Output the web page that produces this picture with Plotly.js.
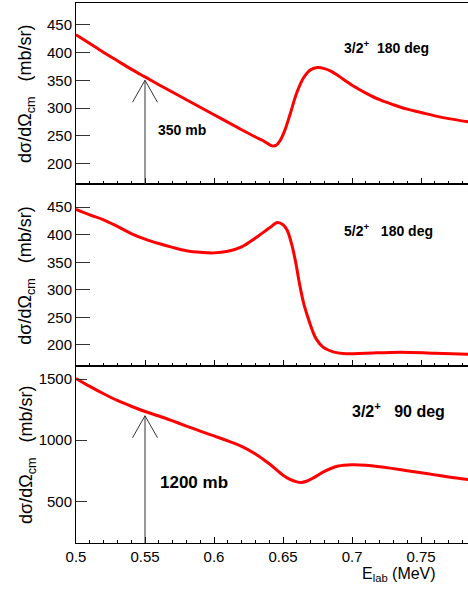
<!DOCTYPE html>
<html><head><meta charset="utf-8">
<script src="https://cdn.plot.ly/plotly-3.0.1.min.js"></script>
<style>html,body{margin:0;padding:0;background:#fff;}#plot{width:468px;height:591px;}</style>
</head><body><div id="plot"></div>
<script>
// Panel 1: 3/2+ 180 deg
const energy1 = [0.50,0.51,0.52,0.53,0.54,0.55,0.56,0.58,0.60,0.62,0.63,0.635,0.639,0.642,0.645,0.648,0.651,0.655,0.66,0.665,0.67,0.675,0.68,0.685,0.69,0.70,0.71,0.72,0.73,0.74,0.75,0.76,0.77,0.785];
const xsec1 = [432,416,400,385,370,356,342,315,288,261,248,242,236,232,233,242,258,288,328,355,369,373,371,366,358,341,327,315,306,298,292,286,281,275];
// Panel 2: 5/2+ 180 deg
const energy2 = [0.50,0.51,0.52,0.53,0.54,0.55,0.56,0.57,0.58,0.59,0.60,0.61,0.62,0.63,0.64,0.646,0.65,0.653,0.656,0.659,0.662,0.665,0.668,0.671,0.674,0.679,0.687,0.696,0.71,0.735,0.76,0.785];
const xsec2 = [446,436,427,415,402,392,384,377,371,368,367,370,378,394,412,422,418,408,385,352,310,275,250,228,211,196,187,184,185,187,185,183];
// Panel 3: 3/2+ 90 deg
const energy3 = [0.50,0.51,0.52,0.53,0.54,0.55,0.56,0.57,0.58,0.59,0.60,0.61,0.62,0.63,0.64,0.65,0.655,0.66,0.663,0.667,0.672,0.68,0.69,0.70,0.71,0.72,0.73,0.74,0.75,0.76,0.77,0.785];
const xsec3 = [1505,1440,1380,1325,1278,1235,1198,1158,1116,1075,1035,995,950,888,808,714,680,660,655,665,692,745,789,800,796,784,768,751,734,717,700,677];
// Arrow markers (energy, cross section)
const arrowE = [0.55, 0.55];
const arrowXS = [350, 1200];
const arrowLabels = ['350 mb', '1200 mb'];
const panelLabels = ['3/2<sup>+</sup>\u00a0\u00a0180 deg', '5/2<sup>+</sup>\u00a0\u00a0\u00a0180 deg', '3/2<sup>+</sup>\u00a0\u00a0\u00a090 deg'];
const yTitle = 'd\u03c3/d\u03a9<sub>cm</sub>\u00a0\u00a0\u00a0(mb/sr)';
const xTitle = 'E<sub>lab</sub> (MeV)';

const FONT = '"Liberation Sans", Arial, Helvetica, sans-serif';
const red = {color:'#ff0000', width:3, shape:'spline', smoothing:1};
const traces = [
  {x:energy1, y:xsec1, xaxis:'x', yaxis:'y', mode:'lines', line:red, hoverinfo:'skip'},
  {x:energy2, y:xsec2, xaxis:'x2', yaxis:'y2', mode:'lines', line:red, hoverinfo:'skip'},
  {x:energy3, y:xsec3, xaxis:'x3', yaxis:'y3', mode:'lines', line:red, hoverinfo:'skip'}
];
const xr = [0.5, 0.784];
function xax(anchor, labels){
  return {range:xr, anchor:anchor, showline:true, linecolor:'#000', linewidth:1, mirror:true,
    ticks:'inside', ticklen:6, tickcolor:'#000', dtick:0.05, tick0:0.5, showgrid:false, zeroline:false,
    showticklabels:labels, tickfont:{family:FONT,size:15,color:'#000'},
    minor:{dtick:0.01, ticks:'inside', ticklen:3, tickcolor:'#000', showgrid:false}, fixedrange:true};
}
function yax(domain, range, dtick, tl, standoff){
  return {domain:domain, range:range, dtick:dtick, anchor:'x', showline:true, linecolor:'#000', linewidth:1,
    ticks:'inside', ticklen:tl, tickcolor:'#333', showgrid:false, zeroline:false,
    tickfont:{family:FONT,size:15,color:'#000'},
    title:{text:yTitle, font:{family:FONT,size:18,color:'#000'}, standoff:standoff}, fixedrange:true};
}
const layout = {
  width:468, height:591, margin:{l:76, r:0, t:3, b:48},
  paper_bgcolor:'#fff', plot_bgcolor:'#fff', showlegend:false,
  font:{family:FONT, color:'#000'},
  xaxis: xax('y', false),
  xaxis2: Object.assign(xax('y2', false), {matches:'x'}),
  xaxis3: Object.assign(xax('y3', true), {matches:'x'}),
  yaxis: yax([0.6639,1], [162.5,489], 50, 14, 10),
  yaxis2: Object.assign(yax([0.3269,0.6639], [161,491], 50, 14, 10), {anchor:'x2'}),
  yaxis3: Object.assign(yax([0,0.3269], [160,1603], 500, 11, 1), {anchor:'x3'}),
  shapes: [], annotations: []
};
const arrowAxes = [['x','y',162.5],['x3','y3',160]];
arrowE.forEach((e,i)=>{
  const [xa,ya,ymin] = arrowAxes[i];
  layout.shapes.push({type:'line', xref:xa, yref:ya, x0:e, x1:e, y0:ymin, y1:arrowXS[i], line:{color:'#333', width:1}});
  layout.shapes.push({type:'path', xref:xa, yref:ya, xsizemode:'pixel', ysizemode:'pixel', xanchor:e, yanchor:arrowXS[i],
    path:'M-12.5,-22L0,0L12.5,-22', line:{color:'#333', width:1}});
});
const ann = (xref,yref,x,y,text,size)=>({xref:xref, yref:yref, x:x, y:y, xanchor:'left', yanchor:'middle', showarrow:false,
  text:'<b>'+text+'</b>', font:{family:FONT, size:size, color:'#000'}});
layout.annotations.push(ann('x','y',0.6925,410,panelLabels[0],14));
layout.annotations.push(ann('x2','y2',0.6925,408.7,panelLabels[1],14));
layout.annotations.push(ann('x3','y3',0.6986,1249,panelLabels[2],16));
layout.annotations.push(ann('x','y',0.558,260,arrowLabels[0],14));
layout.annotations.push(ann('x3','y3',0.5594,653,arrowLabels[1],17));
layout.annotations.push({xref:'paper', yref:'paper', x:(438-76)/392, y:0, yshift:-31, xanchor:'right', yanchor:'middle',
  showarrow:false, text:xTitle, font:{family:FONT, size:16, color:'#000'}});
Plotly.newPlot('plot', traces, layout, {staticPlot:true, displayModeBar:false});
</script></body></html>
